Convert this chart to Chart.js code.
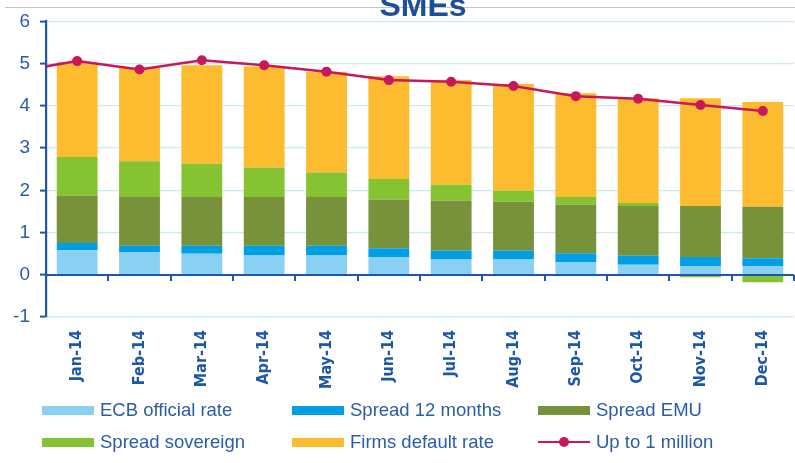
<!DOCTYPE html>
<html>
<head>
<meta charset="utf-8">
<script src="https://cdn.jsdelivr.net/npm/chart.js@4.4.1/dist/chart.umd.min.js"></script>
<style>
html,body{margin:0;padding:0;background:#fff;overflow:hidden;}
#wrap{position:relative;width:799px;height:463px;}
#legend{position:absolute;left:0;top:0;width:795px;height:463px;pointer-events:none;}
.item{position:absolute;height:20px;display:flex;align-items:center;white-space:nowrap;
  font-family:"Liberation Sans",Arial,sans-serif;font-size:18.5px;color:#2b5ca8;}
.sw{width:52px;height:9px;margin-right:6px;position:relative;}
</style>
</head>
<body>
<div id="wrap">
  <canvas id="c" width="799" height="463"></canvas>
  <div id="legend"></div>
</div>
<script>
// ---- data ----
const chartTitle = 'SMEs';
const categories = ['Dec-13','Jan-14','Feb-14','Mar-14','Apr-14','May-14','Jun-14','Jul-14','Aug-14','Sep-14','Oct-14','Nov-14','Dec-14'];
const ecbOfficialRate  = [null, 0.58, 0.54, 0.50, 0.47, 0.47, 0.42, 0.36, 0.36, 0.29, 0.24, 0.21, 0.21];
const spread12Months   = [null, 0.17, 0.15, 0.19, 0.22, 0.22, 0.21, 0.21, 0.21, 0.22, 0.21, 0.21, 0.18];
const spreadEMU        = [null, 1.13, 1.15, 1.15, 1.15, 1.15, 1.15, 1.19, 1.16, 1.15, 1.18, 1.21, 1.22];
const spreadSovereign  = [null, 0.91, 0.85, 0.79, 0.70, 0.58, 0.49, 0.37, 0.26, 0.18, 0.07, -0.06, -0.18];
const firmsDefaultRate = [null, 2.24, 2.21, 2.33, 2.39, 2.39, 2.43, 2.48, 2.53, 2.46, 2.48, 2.55, 2.48];
const upTo1Million     = [4.81, 5.06, 4.86, 5.08, 4.96, 4.81, 4.61, 4.57, 4.47, 4.23, 4.17, 4.02, 3.88];
const yTicks = [-1, 0, 1, 2, 3, 4, 5, 6];

// ---- styles ----
const AXIS = '#1d58a6', TXT = '#2b5ca8', GRID = '#cbe9f7';
const barDs = (label, data, color) => ({type:'bar', label, data, backgroundColor:color, borderWidth:0,
  stack:'s', order:1, categoryPercentage:1, barPercentage:0.655});

const zeroAxis = {
  id:'zeroAxis',
  afterDatasetsDraw(chart){
    const {ctx, chartArea:a, scales:{x,y}} = chart;
    const y0 = Math.round(y.getPixelForValue(0));
    const half = (x.getPixelForTick(1) - x.getPixelForTick(0)) / 2;
    ctx.save();
    ctx.strokeStyle = AXIS; ctx.lineWidth = 2.2;
    ctx.beginPath(); ctx.moveTo(a.left, y0); ctx.lineTo(a.right, y0); ctx.stroke();
    ctx.lineWidth = 2;
    x.ticks.forEach((t,i)=>{
      const bx = Math.round(x.getPixelForTick(i) + half);
      ctx.beginPath(); ctx.moveTo(bx, y0); ctx.lineTo(bx, y0+6); ctx.stroke();
    });
    ctx.restore();
  }
};
const titlePlugin = {
  id:'titleDraw',
  beforeDraw(chart){
    const ctx = chart.ctx;
    ctx.save();
    ctx.strokeStyle = '#c4c4c4'; ctx.lineWidth = 1;
    ctx.beginPath(); ctx.moveTo(5, 7.5); ctx.lineTo(chart.width, 7.5); ctx.stroke();
    ctx.restore();
  },
  afterDraw(chart){
    const ctx = chart.ctx;
    ctx.save();
    ctx.fillStyle = '#1b4f9e';
    ctx.font = 'bold 32px "Liberation Sans", Arial, sans-serif';
    ctx.textAlign = 'center'; ctx.textBaseline = 'alphabetic';
    ctx.fillText(chartTitle, 423, 15.5);
    ctx.restore();
  }
};

const chart = new Chart(document.getElementById('c'), {
  data:{
    labels:categories,
    datasets:[
      {type:'line', label:'Up to 1 million', data:upTo1Million, borderColor:'#c8175d', backgroundColor:'#c8175d',
       borderWidth:2.5, pointRadius:5, pointBackgroundColor:'#c8175d', pointBorderWidth:0, tension:0, stack:'line', order:0},
      barDs('ECB official rate', ecbOfficialRate, '#8ad0f2'),
      barDs('Spread 12 months', spread12Months, '#009fe3'),
      barDs('Spread EMU', spreadEMU, '#77923b'),
      barDs('Spread sovereign', spreadSovereign, '#86c332'),
      barDs('Firms default rate', firmsDefaultRate, '#fdbb2f'),
    ]
  },
  options:{
    responsive:false, animation:false,
    layout:{padding:{top:21, left:0, right:0, bottom:0}},
    plugins:{legend:{display:false}, tooltip:{enabled:false}, title:{display:false}},
    scales:{
      x:{stacked:true, min:'Jan-14', offset:true,
        grid:{display:false, drawTicks:false},
        border:{display:false},
        ticks:{color:AXIS, padding:13, minRotation:90, maxRotation:90, autoSkip:false,
          font:{family:'"DejaVu Sans Condensed","Liberation Sans",Arial,sans-serif', size:16, weight:'bold'}},
        afterFit(s){ s.height = 146; }
      },
      y:{stacked:true, min:-1, max:6,
        afterBuildTicks(s){ s.ticks = yTicks.map(v=>({value:v})); },
        grid:{color:GRID, lineWidth:1.2, tickColor:AXIS, tickLength:6, tickWidth:2},
        border:{color:AXIS, width:2.2},
        ticks:{color:TXT, padding:10, font:{family:'"Liberation Sans",Arial,sans-serif', size:19}},
        afterFit(s){ s.width = 46; }
      }
    }
  },
  plugins:[zeroAxis, titlePlugin]
});

// ---- HTML legend built from datasets ----
const order = ['ECB official rate','Spread 12 months','Spread EMU','Spread sovereign','Firms default rate','Up to 1 million'];
const colX = [42, 292, 538], rowY = [410, 442];
const lg = document.getElementById('legend');
order.forEach((name, i) => {
  const ds = chart.data.datasets.find(d => d.label === name);
  const it = document.createElement('div');
  it.className = 'item';
  it.style.left = colX[i % 3] + 'px';
  it.style.top = (rowY[Math.floor(i / 3)] - 10) + 'px';
  const sw = document.createElement('div');
  sw.className = 'sw';
  if (ds.type === 'line') {
    sw.style.height = '12px';
    sw.innerHTML = '<div style="position:absolute;left:0;right:0;top:5px;height:2px;background:'+ds.borderColor+'"></div>'+
      '<div style="position:absolute;left:21px;top:1px;width:10px;height:10px;border-radius:50%;background:'+ds.borderColor+'"></div>';
  } else {
    sw.style.background = ds.backgroundColor;
  }
  const tx = document.createElement('span');
  tx.textContent = name;
  it.appendChild(sw); it.appendChild(tx);
  lg.appendChild(it);
});
</script>
</body>
</html>
